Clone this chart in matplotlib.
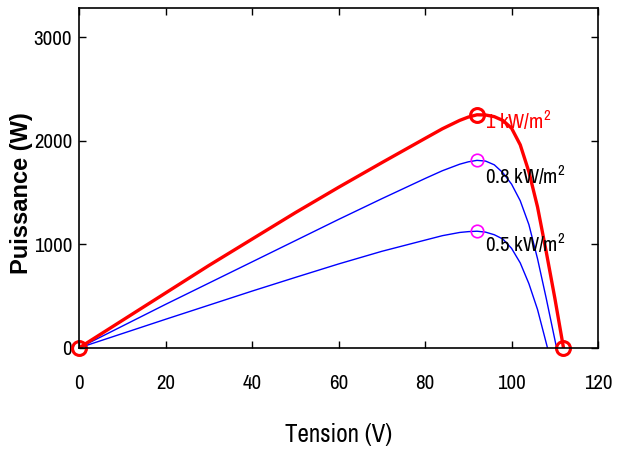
import matplotlib
matplotlib.use("Agg")
import matplotlib.pyplot as plt
from matplotlib import font_manager

# P-V curves (tension in V, power in W)
v_1000 = [0, 10, 20, 30, 40, 50, 60, 70, 80, 84, 88, 90, 92, 94, 96, 98, 100, 102, 104, 106, 108, 110, 112]
p_1000 = [0, 265, 530, 795, 1050, 1305, 1550, 1788, 2022, 2115, 2196, 2228, 2250, 2248, 2232, 2195, 2120, 1960, 1700, 1360, 930, 480, 0]

v_800 = [0, 10, 20, 30, 40, 50, 60, 70, 80, 84, 88, 90, 92, 94, 96, 98, 100, 102, 104, 106, 108, 110.4]
p_800 = [0, 210, 420, 625, 830, 1035, 1240, 1440, 1635, 1710, 1773, 1796, 1810, 1803, 1767, 1690, 1580, 1420, 1190, 860, 480, 0]

v_500 = [0, 10, 20, 30, 40, 50, 60, 70, 80, 84, 88, 90, 92, 94, 96, 98, 100, 102, 104, 106, 108.3]
p_500 = [0, 138, 276, 412, 548, 680, 810, 932, 1040, 1083, 1114, 1122, 1126, 1117, 1092, 1050, 960, 820, 620, 370, 0]

# maximum power points and the red marked points
mpp_v = [92, 92]
mpp_p = [1810, 1125]
red_v = [0, 92, 112]
red_p = [0, 2250, 0]

labels = ["1 kW/m$^\\mathrm{2}$", "0.8 kW/m$^\\mathrm{2}$", "0.5 kW/m$^\\mathrm{2}$"]
label_p = [2190, 1660, 1005]

xticks = [0, 20, 40, 60, 80, 100, 120]
yticks = [0, 1000, 2000, 3000]

# use a narrow face if one is installed (the reference text is tall and thin)
narrow = ["Liberation Sans", "DejaVu Sans"]
for f in font_manager.fontManager.ttflist:
    n = f.name.lower()
    if ("narrow" in n or "condensed" in n) and "mono" not in n and "serif" not in n:
        narrow = [f.name] + narrow
        break

plt.rcParams["mathtext.fontset"] = "custom"
plt.rcParams["mathtext.rm"] = narrow[0]

fig = plt.figure(figsize=(6.23, 4.5), dpi=100)
ax = fig.add_axes([0.127, 0.227, 0.833, 0.755])

ax.plot(v_800, p_800, color="blue", lw=1.0)
ax.plot(v_500, p_500, color="blue", lw=1.0)
ax.plot(v_1000, p_1000, color="red", lw=2.4)

ax.plot(mpp_v, mpp_p, "o", ms=9, mfc="none", mec="magenta", mew=1.2)
ax.plot(red_v, red_p, "o", ms=10, mfc="none", mec="red", mew=2.2, clip_on=False)

colors = ["red", "black", "black"]
for lab, p, c in zip(labels, label_p, colors):
    ax.text(93.8, p, lab, color=c, fontsize=15, va="center", ha="left", family=narrow)

ax.set_xlim(0, 120)
ax.set_ylim(0, 3280)
ax.set_xticks(xticks)
ax.set_yticks(yticks)
ax.tick_params(direction="in", top=True, right=True, length=5, width=1)
ax.tick_params(axis="x", pad=19)
ax.tick_params(axis="y", pad=5)
for lab in ax.get_xticklabels() + ax.get_yticklabels():
    lab.set_family(narrow)
    lab.set_fontsize(15)
for s in ax.spines.values():
    s.set_linewidth(1.2)

ax.set_xlabel("Tension (V)", fontsize=18, family=narrow)
ax.xaxis.set_label_coords(0.5, -0.22)
ax.set_ylabel("Puissance (W)", fontsize=17, fontweight="bold", family=["Liberation Sans", "DejaVu Sans"])
ax.yaxis.set_label_coords(-0.088, 0.455)

fig.savefig("out.png", dpi=100)
